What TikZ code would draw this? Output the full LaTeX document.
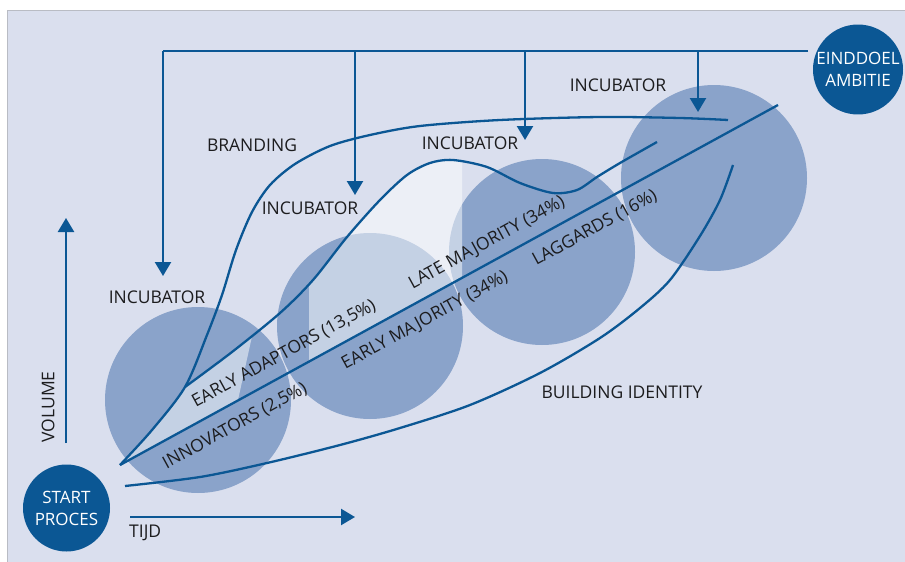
\documentclass[tikz,border=0pt]{standalone}
\usepackage{fontspec}
\setmainfont{Open Sans}
\usetikzlibrary{arrows.meta}

\definecolor{panel}{RGB}{218,223,238}
\definecolor{disc}{RGB}{138,163,202}
\definecolor{deep}{RGB}{11,87,148}
\definecolor{ink}{RGB}{28,28,30}
\definecolor{frame}{RGB}{185,188,196}

% curve points
\def\brandpts{(120,465) (152,430) (185,387) (207,335) (222,295) (236,250) (252,212) (270,185) (295,164) (330,146) (370,135) (420,126) (500,120) (600,117) (680,118) (728,120)}
\def\wavepts{(185,387) (232,352) (280,313) (313,280) (347,237) (380,200) (407,175) (430,163) (453,160) (487,167) (520,183) (553,193) (577,190) (597,177) (620,163) (657,142)}
\def\identpts{(125,486) (200,477) (267,463) (340,445) (400,428) (470,405) (540,373) (600,338) (640,308) (670,280) (700,236) (720,200) (733,165)}

\begin{document}
\begin{tikzpicture}[
    x=1pt, y=-1pt,
    line/.style={draw=deep, line width=2.3pt},
    arr/.style={line, -{Triangle[width=16pt,length=14pt]}},
    lbl/.style={font=\fontsize{17.5}{22}\selectfont, text=ink, inner sep=2pt},
    band/.style={lbl, rotate=28.7},
    phase/.style={fill=disc},
    glow/.style={fill=white, fill opacity=0.5},
    goal/.style={circle, fill=deep, text=white, align=center, inner sep=0pt, font=\fontsize{17}{22}\selectfont}
]
\useasboundingbox (0,0) rectangle (905,562);
\fill[white] (0,0) rectangle (905,562);
\filldraw[fill=panel, draw=frame, line width=0.8pt] (7,10) rectangle (912,570);

\foreach \i in {0,...,3}
    \fill[phase] ({198+172*\i},{400-74*\i}) circle[radius=93pt];

% lighter band between the wave and the main line
\begin{scope}
    \clip (90,300) -- (260,300) -- (216,500) -- (90,500) -- cycle
          (309,100) rectangle (462,420);
    \fill[glow] plot[smooth] coordinates {(120,465) (152,430) (185,387)}
        -- plot[smooth] coordinates {(185,387) (232,352) (280,313) (313,280) (347,237) (380,200) (407,175) (430,163) (453,160) (487,167) (520,183) (553,193) (577,190) (597,177) (620,163) (657,142)}
        -- (657,171) -- cycle;
\end{scope}

\coordinate (o) at (120,465);
\coordinate (e) at (778,105);
\draw[line] (o) -- (e);
\draw[line] plot[smooth] coordinates {\brandpts};
\draw[line] plot[smooth] coordinates {\wavepts};
\draw[line] plot[smooth] coordinates {\identpts};

\node[goal, minimum size=87pt] (start) at (66.5,508) {START\\PROCES};
\node[goal, minimum size=88pt] (ambitie) at (858,69.5) {EINDDOEL\\AMBITIE};

\coordinate (rail) at (808,51);
\foreach \x/\y [count=\k] in {163/276, 355/195, 525/140, 698/112}
    \coordinate (drop\k) at (\x,\y);
\draw[line] (rail) -- (rail -| drop1);
\foreach \k in {1,...,4}
    \draw[arr] (rail -| drop\k) -- (drop\k);

\coordinate (vol0) at (66,443);
\coordinate (vol1) at (66,218);
\coordinate (tijd0) at (130,517);
\coordinate (tijd1) at (355,517);
\draw[arr] (vol0) -- (vol1);
\draw[arr] (tijd0) -- (tijd1);

\node[lbl, rotate=90] (volume) at (48,407) {VOLUME};
\node[lbl, anchor=west] (tijd) at (127,533) {TIJD};

\node[lbl] (branding) at (252,145) {BRANDING};
\node[lbl] (inc1) at (157,297) {INCUBATOR};
\node[lbl] (inc2) at (310,208) {INCUBATOR};
\node[lbl] (inc3) at (470,143) {INCUBATOR};
\node[lbl] (inc4) at (618,85) {INCUBATOR};
\node[lbl] (identity) at (622,392) {BUILDING IDENTITY};

\node[band] (innov) at (235,426) {INNOVATORS (2,5\%)};
\node[band] (adapt) at (284,354) {EARLY ADAPTORS (13,5\%)};
\node[band] (early) at (425,321) {EARLY MAJORITY (34\%)};
\node[band] (late) at (487,243) {LATE MAJORITY (34\%)};
\node[band] (lag) at (595,228) {LAGGARDS (16\%)};
\end{tikzpicture}
\end{document}
